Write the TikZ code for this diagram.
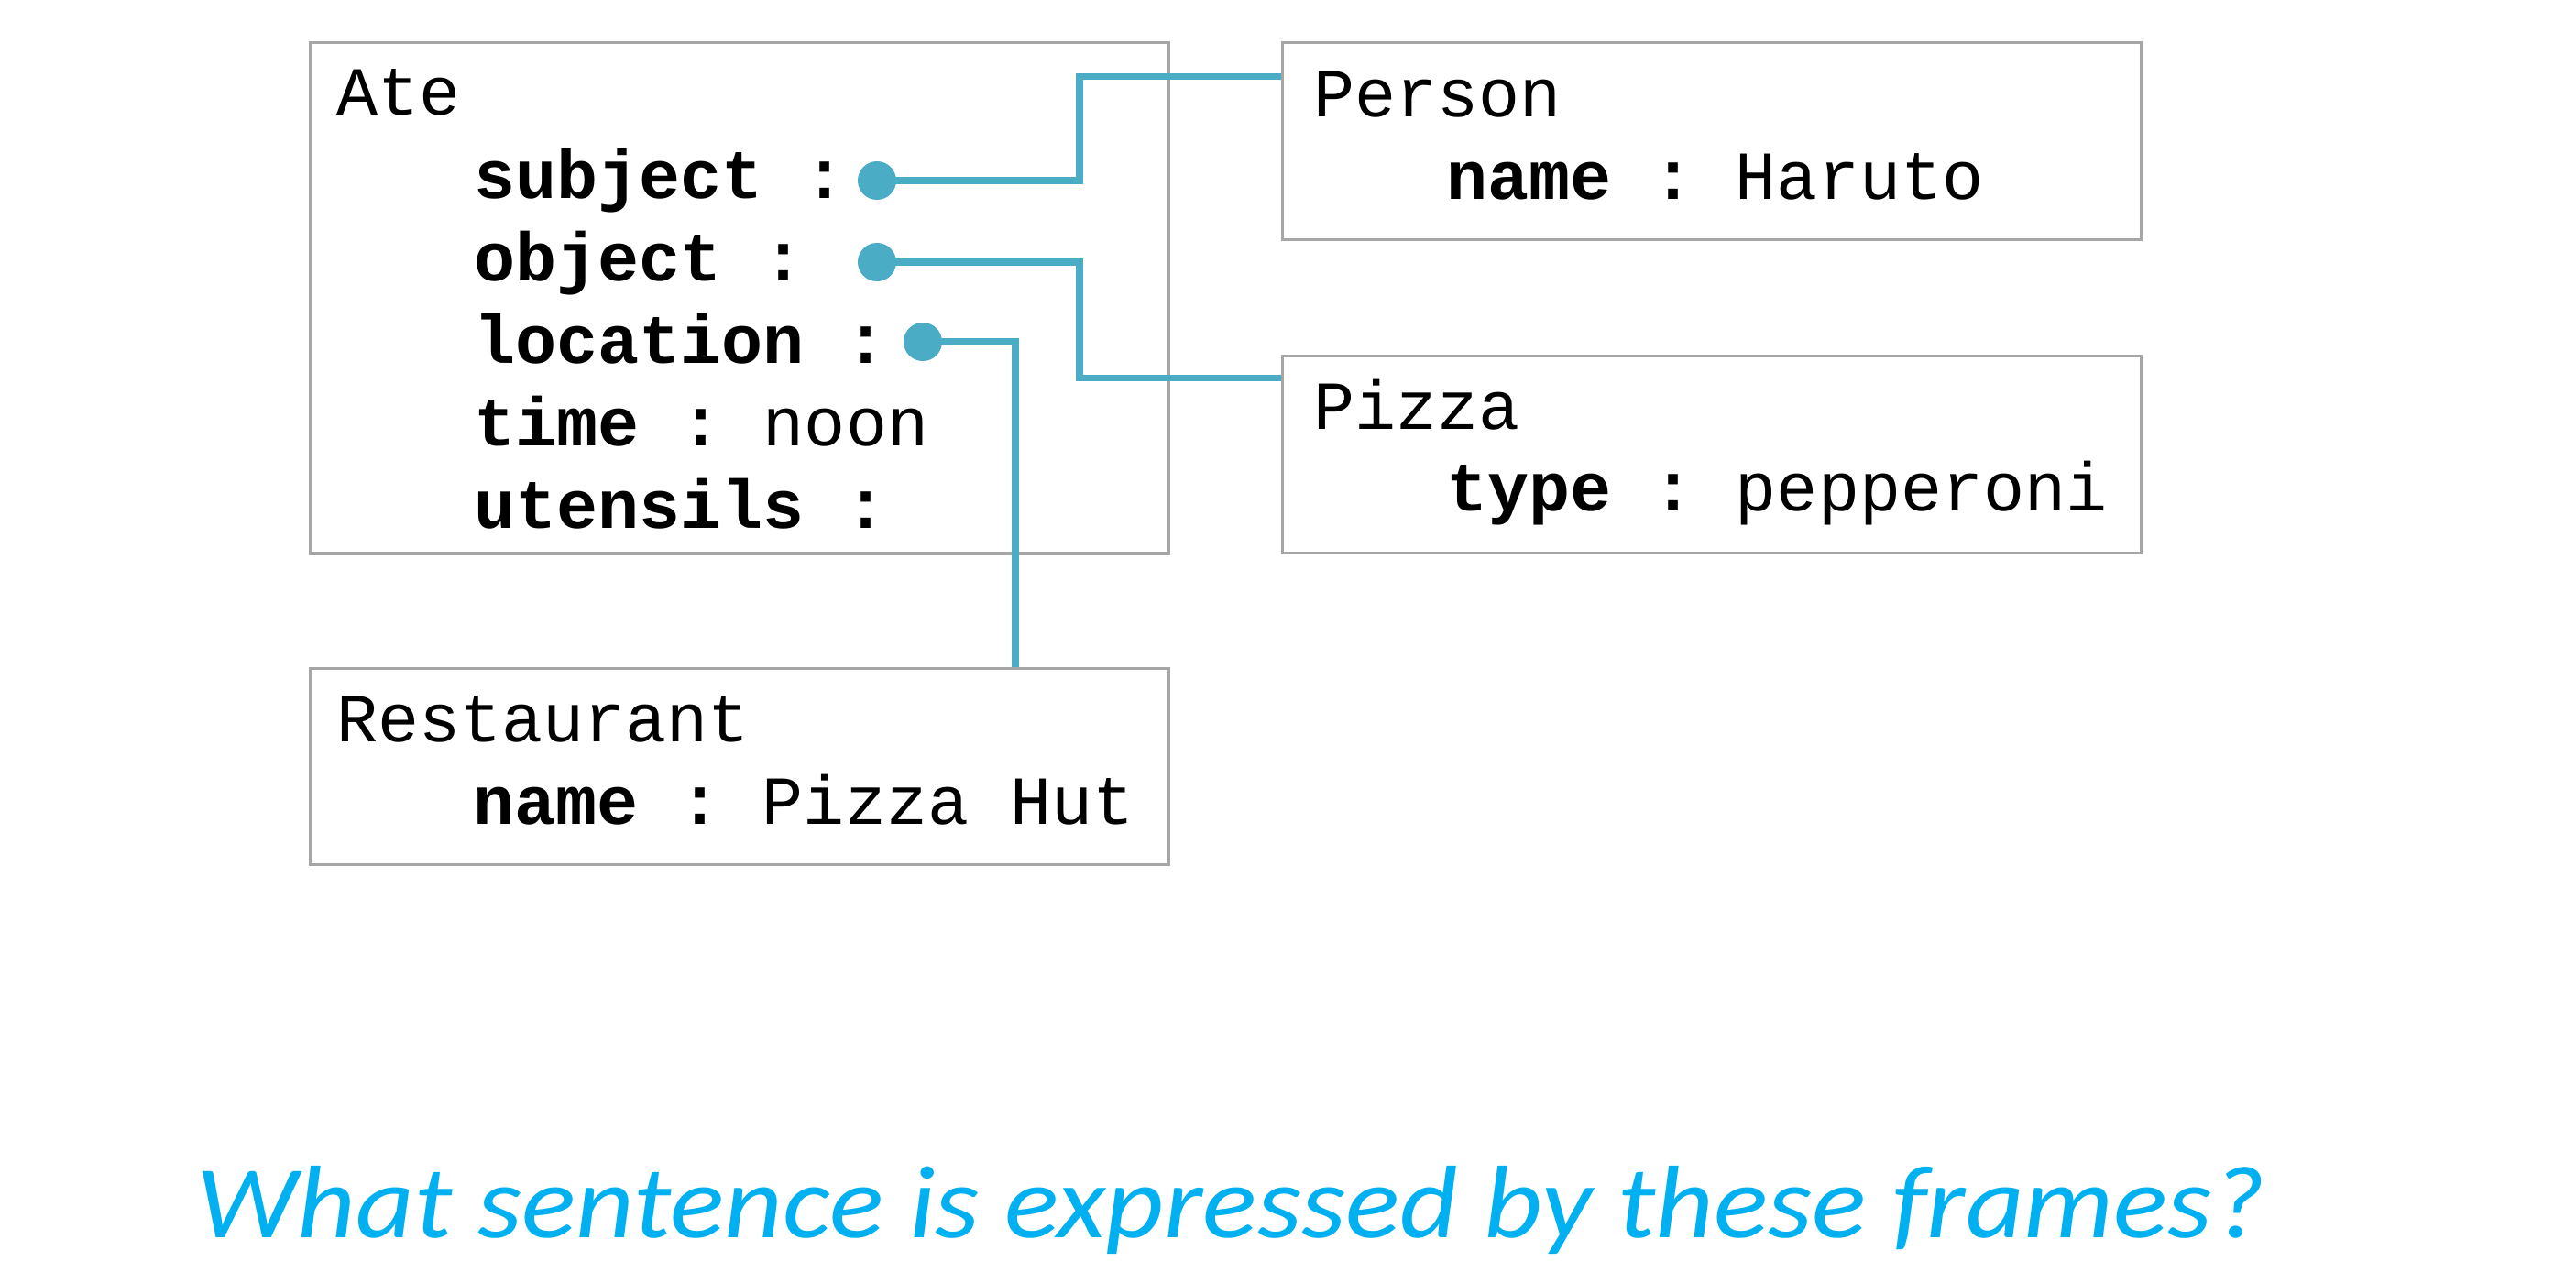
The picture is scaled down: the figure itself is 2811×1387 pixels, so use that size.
\documentclass[tikz,border=0pt]{standalone}
\usepackage{fontspec}
\setmonofont{Liberation Mono}
\newfontfamily\titlefont[FakeStretch=1.1]{Carlito}
\usepackage{tikz}
\definecolor{framegray}{HTML}{A6A6A6}
\definecolor{linkblue}{HTML}{4BACC6}
\definecolor{titleblue}{HTML}{00B0F0}
\tikzset{
    frame/.style={
        draw=framegray,
        line width=0.95pt,
        minimum width=9.36cm,
        inner sep=0pt,
        anchor=north west
    },
    slot/.style={
        anchor=base west,
        inner sep=0pt,
        font=\ttfamily\fontsize{21.34}{26}\selectfont
    },
    link/.style={
        draw=linkblue,
        line width=2pt
    },
    pin/.style={
        circle,
        fill=linkblue,
        minimum size=0.42cm,
        inner sep=0pt
    }
}

\begin{document}
\begin{tikzpicture}[x=0.01cm, y=-0.01cm]
\useasboundingbox (0,0) rectangle (2811,1387);

% frames
\node[frame, minimum height=5.57cm] (ate) at (337,45) {};
\node[frame, minimum height=2.15cm] (person) at (1398,45) {};
\node[frame, minimum height=2.15cm] (pizza) at (1398,387) {};
\node[frame, minimum height=2.14cm] (rest) at (337,728) {};

% Ate
\node[slot] (ateName) at (367,125) {Ate};
\node[slot] (ateSubj) at (517,216) {\textbf{subject :}};
\node[slot] (ateObj) at (517,306) {\textbf{object :}};
\node[slot] (ateLoc) at (517,396) {\textbf{location :}};
\node[slot] (ateTime) at (517,486) {\textbf{time :} noon};
\node[slot] (ateUtens) at (517,576) {\textbf{utensils :}};

% Person
\node[slot] (personName) at (1433,127) {Person};
\node[slot] (personAttr) at (1578,217) {\textbf{name :} Haruto};

% Pizza
\node[slot] (pizzaName) at (1433,468) {Pizza};
\node[slot] (pizzaAttr) at (1578,557) {\textbf{type :} pepperoni};

% Restaurant
\node[slot] (restName) at (367,809) {Restaurant};
\node[slot] (restAttr) at (516,899) {\textbf{name :} Pizza Hut};

% slot values
\node[pin] (sdot) at (957,197) {};
\node[pin] (odot) at (957,286) {};
\node[pin] (ldot) at (1007,373) {};

\coordinate (pP) at ([yshift=-0.38cm]person.north west);
\coordinate (pZ) at ([yshift=-0.25cm]pizza.north west);
\coordinate (bend) at (1178,0);
\coordinate (lbend) at (1108,0);

\draw[link] (sdot.center) -- (sdot -| bend) |- (pP);
\draw[link] (odot.center) -- (odot -| bend) |- (pZ);
\draw[link] (ldot.center) -- (ldot -| lbend) -- (lbend |- rest.north);

% question
\node[anchor=base west, inner sep=0pt, text=titleblue,
    font=\titlefont\itshape\fontsize{32}{38}\selectfont] (question) at (214,1350)
    {What sentence is expressed by these frames?};
\end{tikzpicture}
\end{document}
